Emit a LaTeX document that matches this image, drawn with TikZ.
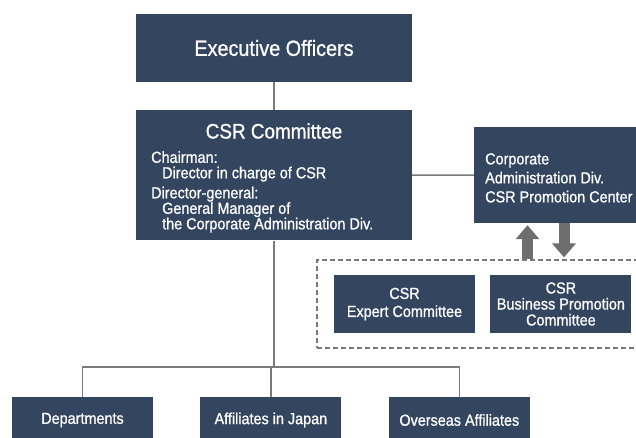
\documentclass[tikz,border=0pt]{standalone}
\usepackage{fontspec}
\setmainfont{Liberation Sans}[FakeStretch=0.9,FakeBold=0.9]
\usetikzlibrary{arrows.meta,positioning}
\definecolor{navy}{HTML}{33455F}
\definecolor{linegray}{HTML}{7A7A7A}
\definecolor{arrowgray}{HTML}{6E6E6E}

\begin{document}
\begin{tikzpicture}[x=1pt,y=-1pt,
    box/.style={fill=navy,text=white,inner sep=0pt,minimum width=141pt,minimum height=58pt,
      align=center,font=\fontsize{16}{17}\selectfont},
    bigbox/.style={box,minimum width=276pt,font=\fontsize{22}{24}\selectfont},
    boxtext/.style={text=white,inner sep=0pt,align=left,anchor=north west},
    link/.style={draw=linegray,line width=1.5pt},
    fatarrow/.style={draw=arrowgray,line width=11pt,-{Triangle[width=23pt,length=14pt]}}]
  \useasboundingbox (0,0) rectangle (636,437);
  \clip (0,0) rectangle (636,437);

  % top of the chart
  \node[bigbox,minimum height=68pt] (exec) at (274,48) {Executive Officers};
  \node[bigbox,minimum height=130pt,below=28pt of exec] (comm) {};
  \node[text=white,font=\fontsize{21}{24}\selectfont] (commtitle) at (274,131) {CSR Committee};
  \node[boxtext,font=\fontsize{16}{15.5}\selectfont] (commtext) at (151,151)
    {Chairman:\\\hspace*{11pt}Director in charge of CSR\\[4.5pt]
     Director-general:\\\hspace*{11pt}General Manager of\\\hspace*{11pt}the Corporate Administration Div.};

  % promotion center and working groups
  \node[box,minimum width=172pt,minimum height=96pt] (corp) at (560,175) {};
  \node[boxtext,font=\fontsize{16}{19}\selectfont] (corptext) at (485,153)
    {Corporate\\Administration Div.\\CSR Promotion Center};
  \node[draw=linegray,line width=1.2pt,dash pattern=on 5pt off 3pt,inner sep=0pt,
    minimum width=333pt,minimum height=88pt] (groups) at (483.5,304) {};
  \node[box,font=\fontsize{16}{18}\selectfont] (expert) at (404.5,304) {CSR\\Expert Committee};
  \node[box,font=\fontsize{16}{16}\selectfont,right=15pt of expert] (bizpro) {CSR\\Business Promotion\\Committee};

  % bottom row
  \node[box,minimum height=46pt] (depts) at (82.5,420) {Departments};
  \node[box,minimum height=46pt,right=47pt of depts] (japan) {Affiliates in Japan};
  \node[box,minimum height=46pt,right=47pt of japan] (overseas) {Overseas Affiliates};

  \coordinate (bus) at (274,367);
  \draw[link] (exec) -- (comm);
  \draw[link] (comm) -- (corp);
  \draw[link] (comm.south) -- (comm.south |- bus);
  \draw[link] (depts.north) |- (bus) -| (overseas.north);
  \draw[link] (japan.north) -- (japan.north |- bus);

  \coordinate (up) at (527.5,0);
  \coordinate (down) at (564,0);
  \draw[fatarrow] (groups.north -| up) -- ([yshift=-2pt]corp.south -| up);
  \draw[fatarrow] (corp.south -| down) -- ([yshift=2pt]groups.north -| down);
\end{tikzpicture}
\end{document}
